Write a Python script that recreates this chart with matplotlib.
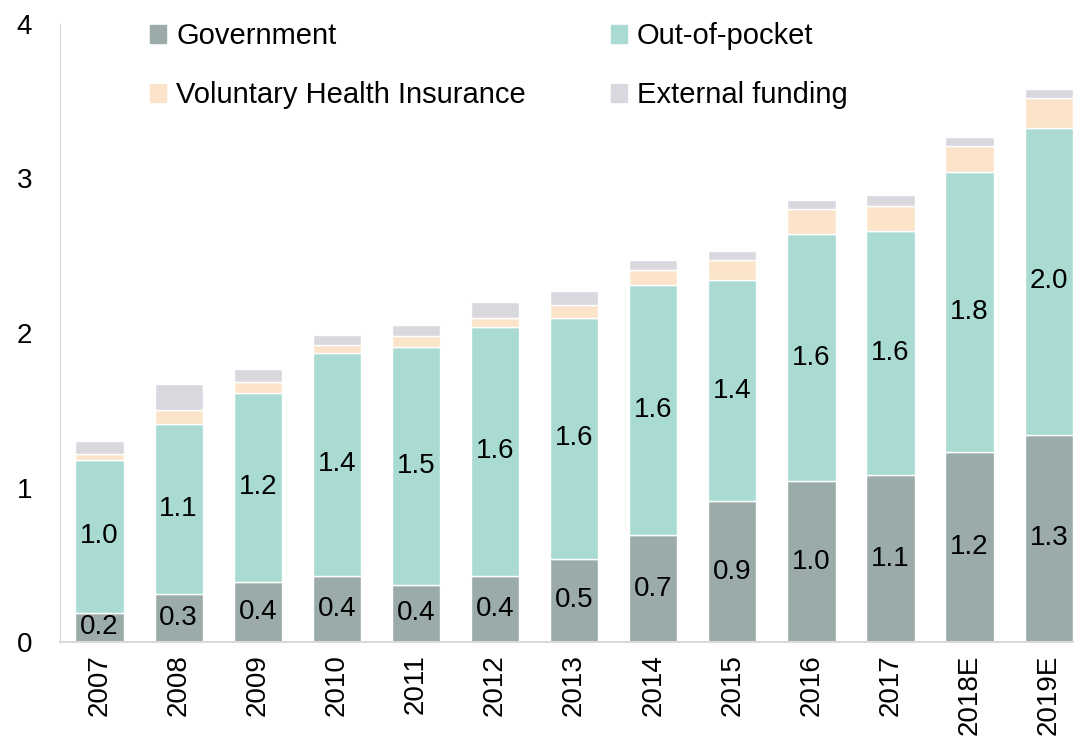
import numpy as np
import matplotlib.pyplot as plt
from matplotlib.patches import Patch

plt.rcParams['font.family'] = ['Liberation Sans', 'DejaVu Sans']

years = ['2007', '2008', '2009', '2010', '2011', '2012', '2013',
         '2014', '2015', '2016', '2017', '2018E', '2019E']
government = [0.19, 0.31, 0.39, 0.43, 0.37, 0.43, 0.54, 0.69, 0.91, 1.04, 1.08, 1.23, 1.34]
out_of_pocket = [0.99, 1.10, 1.22, 1.44, 1.54, 1.61, 1.56, 1.62, 1.43, 1.60, 1.58, 1.81, 1.99]
voluntary = [0.04, 0.09, 0.07, 0.05, 0.07, 0.06, 0.08, 0.10, 0.13, 0.16, 0.16, 0.17, 0.19]
external = [0.08, 0.17, 0.09, 0.07, 0.07, 0.10, 0.09, 0.06, 0.06, 0.06, 0.07, 0.06, 0.06]

c_gov = '#9aaba9'
c_oop = '#a9dbd3'
c_vhi = '#fbe4ca'
c_ext = '#dad8df'

fig = plt.figure(figsize=(10.74, 7.44), dpi=100)
ax = fig.add_axes([60/1074, 1-642/744, 1014/1074, 618/744])

x = np.arange(len(years))
w = 0.61
gov = np.array(government)
oop = np.array(out_of_pocket)
vhi = np.array(voluntary)
ext = np.array(external)

ax.bar(x, gov, w, color=c_gov, edgecolor='white', linewidth=1)
ax.bar(x, oop, w, bottom=gov, color=c_oop, edgecolor='white', linewidth=1)
ax.bar(x, vhi, w, bottom=gov+oop, color=c_vhi, edgecolor='white', linewidth=1)
ax.bar(x, ext, w, bottom=gov+oop+vhi, color=c_ext, edgecolor='white', linewidth=1)

for i in range(len(years)):
    ax.text(x[i], gov[i]/2, '%.1f' % gov[i], ha='center', va='center', fontsize=20)
    ax.text(x[i], gov[i]+oop[i]/2, '%.1f' % oop[i], ha='center', va='center', fontsize=20)

ax.set_ylim(0, 4)
ax.set_xlim(-0.5, 12.32)
ax.set_yticks([0, 1, 2, 3, 4])
ax.set_xticks(x)
ax.set_xticklabels(years, rotation=90)
ax.tick_params(length=0, labelsize=20)
ax.tick_params(axis='y', pad=20)
ax.tick_params(axis='x', pad=9)
for s in ['top', 'right']:
    ax.spines[s].set_visible(False)
ax.spines['left'].set_color('#d9d9d9')
ax.spines['bottom'].set_color('#d9d9d9')
ax.spines['bottom'].set_linewidth(1.5)

handles = [Patch(color=c_gov, label='Government'),
           Patch(color=c_vhi, label='Voluntary Health Insurance'),
           Patch(color=c_oop, label='Out-of-pocket'),
           Patch(color=c_ext, label='External funding')]
ax.legend(handles=handles, ncol=2, loc='upper left', bbox_to_anchor=(0.063, 1.045),
          frameon=False, fontsize=21, handlelength=0.55, handleheight=0.55,
          handletextpad=0.35, columnspacing=2.9, labelspacing=1.05)

fig.savefig('out.png', dpi=100)
